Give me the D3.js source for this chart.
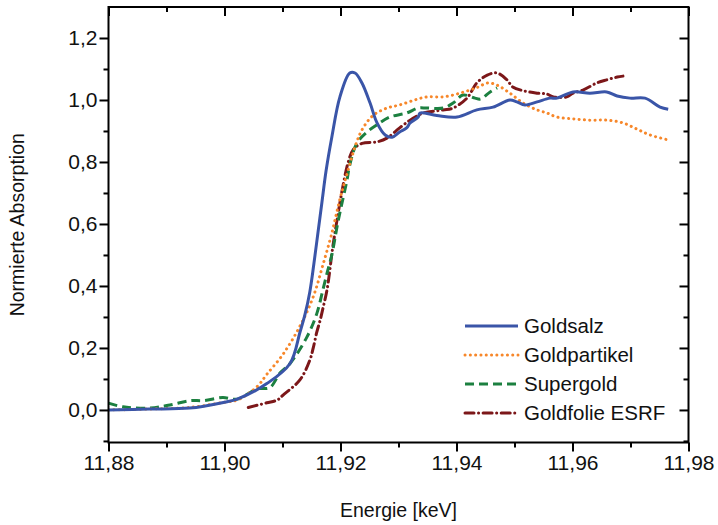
<!DOCTYPE html>
<html>
<head>
<meta charset="utf-8">
<script src="https://cdn.jsdelivr.net/npm/d3@7"></script>
<style>
  html, body { margin: 0; padding: 0; background: #fff; }
  svg text { font-family: "Liberation Sans", Arial, sans-serif; fill: #111; }
</style>
</head>
<body>
<svg id="chart" width="718" height="525"></svg>
<script>
// ---------- data ----------
const seriesNames = ["Goldsalz", "Goldpartikel", "Supergold", "Goldfolie ESRF"];

const energyGoldsalz = [11.880, 11.887, 11.894, 11.900, 11.9022, 11.9073, 11.9113, 11.913, 11.9139, 11.9147, 11.9154, 11.9161, 11.9168, 11.9175, 11.9185, 11.9199, 11.9216, 11.9225, 11.9237, 11.9251, 11.9263, 11.9277, 11.9289, 11.9302, 11.9314, 11.932, 11.9334, 11.9337, 11.9366, 11.9401, 11.9435, 11.9463, 11.9492, 11.9504, 11.9518, 11.9539, 11.9561, 11.9573, 11.9601, 11.963, 11.9659, 11.9677, 11.9699, 11.9725, 11.9751, 11.9765];
const absGoldsalz = [0.0, 0.003, 0.006, 0.025, 0.035, 0.085, 0.15, 0.25, 0.31, 0.38, 0.47, 0.57, 0.67, 0.77, 0.88, 1.01, 1.087, 1.087, 1.055, 0.99, 0.926, 0.887, 0.88, 0.897, 0.91, 0.926, 0.945, 0.958, 0.95, 0.945, 0.968, 0.977, 1.0, 0.994, 0.984, 0.994, 1.006, 1.006, 1.026, 1.022, 1.026, 1.013, 1.006, 1.006, 0.977, 0.97];

const energyGoldpartikel = [11.880, 11.887, 11.894, 11.900, 11.9022, 11.9056, 11.9073, 11.9101, 11.913, 11.9153, 11.917, 11.9185, 11.9199, 11.9208, 11.9228, 11.9239, 11.9256, 11.928, 11.9302, 11.9328, 11.9349, 11.9377, 11.9406, 11.9435, 11.9454, 11.947, 11.9492, 11.9515, 11.9539, 11.9556, 11.9573, 11.9601, 11.963, 11.9659, 11.9687, 11.9711, 11.9734, 11.9765];
const absGoldpartikel = [0.0, 0.003, 0.008, 0.025, 0.032, 0.075, 0.115, 0.18, 0.27, 0.365, 0.47, 0.57, 0.68, 0.74, 0.865, 0.91, 0.95, 0.974, 0.984, 1.0, 1.01, 1.01, 1.022, 1.04, 1.055, 1.048, 1.022, 0.99, 0.968, 0.958, 0.945, 0.939, 0.935, 0.935, 0.926, 0.906, 0.887, 0.871];

const energySupergold = [11.880, 11.8825, 11.8872, 11.8906, 11.8941, 11.8963, 11.8997, 11.9022, 11.9056, 11.9078, 11.9096, 11.9113, 11.9142, 11.9159, 11.917, 11.9178, 11.9185, 11.9196, 11.9211, 11.9216, 11.9228, 11.9246, 11.9263, 11.9285, 11.9314, 11.9334, 11.9349, 11.9377, 11.9394, 11.9411, 11.9432, 11.9441, 11.9458, 11.947];
const absSupergold = [0.022, 0.01, 0.006, 0.016, 0.03, 0.03, 0.04, 0.035, 0.068, 0.072, 0.12, 0.15, 0.235, 0.31, 0.39, 0.45, 0.5, 0.61, 0.74, 0.79, 0.86, 0.897, 0.92, 0.945, 0.958, 0.974, 0.974, 0.974, 0.99, 1.016, 1.006, 1.003, 1.026, 1.039];

const energyGoldfolie = [11.9041, 11.9073, 11.9091, 11.9101, 11.913, 11.9147, 11.9153, 11.9159, 11.9165, 11.917, 11.9177, 11.9187, 11.9196, 11.9204, 11.9213, 11.9222, 11.9237, 11.9263, 11.928, 11.9302, 11.932, 11.9334, 11.9342, 11.9377, 11.9394, 11.9418, 11.9435, 11.9453, 11.947, 11.9487, 11.9497, 11.9515, 11.9539, 11.9556, 11.9567, 11.959, 11.9601, 11.9618, 11.9642, 11.9659, 11.9677, 11.9687];
const absGoldfolie = [0.008, 0.023, 0.032, 0.048, 0.097, 0.16, 0.2, 0.25, 0.29, 0.33, 0.39, 0.53, 0.635, 0.72, 0.797, 0.84, 0.86, 0.865, 0.877, 0.91, 0.935, 0.95, 0.958, 0.968, 0.974, 1.006, 1.055, 1.08, 1.087, 1.065, 1.042, 1.03, 1.022, 1.019, 1.01, 1.01, 1.022, 1.032, 1.055, 1.065, 1.074, 1.077];

const xTickValues = [11.88, 11.90, 11.92, 11.94, 11.96, 11.98];
const xTickLabels = ["11,88", "11,90", "11,92", "11,94", "11,96", "11,98"];
const xMinorTicks = [11.89, 11.91, 11.93, 11.95, 11.97];
const yTickValues = [0.0, 0.2, 0.4, 0.6, 0.8, 1.0, 1.2];
const yTickLabels = ["0,0", "0,2", "0,4", "0,6", "0,8", "1,0", "1,2"];
const yMinorTicks = [-0.1, 0.1, 0.3, 0.5, 0.7, 0.9, 1.1];

// ---------- layout / style ----------
const colors = ["#3a55a8", "#f7872a", "#1c8040", "#7c1719"];
const dashes = [null, "0.1 5.2", "9 5", "9 4.5 0.1 4.5"];
const caps = ["butt", "round", "butt", "round"];

const svg = d3.select("#chart");
const L = 108.5, R = 688.5, T = 7, B = 442.5;
const x = d3.scaleLinear().domain([11.88, 11.98]).range([L, R]);
const y = d3.scaleLinear().domain([-0.105, 1.3]).range([B, T]);

const series = [
  d3.zip(energyGoldsalz, absGoldsalz),
  d3.zip(energyGoldpartikel, absGoldpartikel),
  d3.zip(energySupergold, absSupergold),
  d3.zip(energyGoldfolie, absGoldfolie)
];

svg.append("defs").append("clipPath").attr("id", "clip")
  .append("rect").attr("x", L).attr("y", T).attr("width", R - L).attr("height", B - T);

const line = d3.line().x(d => x(d[0])).y(d => y(d[1])).curve(d3.curveCatmullRom.alpha(0.5));

const gLines = svg.append("g").attr("clip-path", "url(#clip)");
[3, 2, 1, 0].forEach(i => {
  gLines.append("path")
    .datum(series[i])
    .attr("d", line)
    .attr("fill", "none")
    .attr("stroke", colors[i])
    .attr("stroke-width", 3)
    .attr("stroke-linecap", caps[i])
    .attr("stroke-linejoin", "round")
    .attr("stroke-dasharray", dashes[i]);
});

// ---------- axes ----------
const majorLen = 9, minorLen = 5;
function styleAxis(g) {
  g.selectAll(".domain").remove();
  g.selectAll("line").attr("stroke", "#000").attr("stroke-width", 2);
  g.selectAll("text").style("font-size", "21px");
}

// bottom
svg.append("g").attr("transform", `translate(0,${B})`)
  .call(d3.axisBottom(x).tickValues(xTickValues).tickFormat((d, i) => xTickLabels[i]).tickSize(majorLen).tickPadding(4))
  .call(styleAxis);
svg.append("g").attr("transform", `translate(0,${B})`)
  .call(d3.axisBottom(x).tickValues(xMinorTicks).tickFormat("").tickSize(minorLen))
  .call(styleAxis);
// top (inward)
svg.append("g").attr("transform", `translate(0,${T})`)
  .call(d3.axisBottom(x).tickValues(xTickValues).tickFormat("").tickSize(majorLen))
  .call(styleAxis);
svg.append("g").attr("transform", `translate(0,${T})`)
  .call(d3.axisBottom(x).tickValues(xMinorTicks).tickFormat("").tickSize(minorLen))
  .call(styleAxis);
// left
svg.append("g").attr("transform", `translate(${L},0)`)
  .call(d3.axisLeft(y).tickValues(yTickValues).tickFormat((d, i) => yTickLabels[i]).tickSize(majorLen).tickPadding(2))
  .call(styleAxis);
svg.append("g").attr("transform", `translate(${L},0)`)
  .call(d3.axisLeft(y).tickValues(yMinorTicks).tickFormat("").tickSize(minorLen))
  .call(styleAxis);
// right (inward)
svg.append("g").attr("transform", `translate(${R},0)`)
  .call(d3.axisLeft(y).tickValues(yTickValues).tickFormat("").tickSize(majorLen))
  .call(styleAxis);
svg.append("g").attr("transform", `translate(${R},0)`)
  .call(d3.axisLeft(y).tickValues(yMinorTicks).tickFormat("").tickSize(minorLen))
  .call(styleAxis);

// frame
svg.append("rect").attr("x", L).attr("y", T).attr("width", R - L).attr("height", B - T)
  .attr("fill", "none").attr("stroke", "#000").attr("stroke-width", 2);

// axis titles
svg.append("text").attr("x", (L + R) / 2).attr("y", 517).attr("text-anchor", "middle")
  .style("font-size", "19.5px").text("Energie [keV]");
svg.append("text").attr("transform", `translate(24,${(T + B) / 2}) rotate(-90)`)
  .attr("text-anchor", "middle").style("font-size", "19.5px").text("Normierte Absorption");

// ---------- legend ----------
const legend = svg.append("g");
seriesNames.forEach((name, i) => {
  const ly = 326 + i * 29;
  legend.append("line").attr("x1", 465).attr("x2", 518).attr("y1", ly).attr("y2", ly)
    .attr("stroke", colors[i]).attr("stroke-width", 3)
    .attr("stroke-linecap", caps[i]).attr("stroke-dasharray", dashes[i]);
  legend.append("text").attr("x", 524).attr("y", ly).attr("dy", "0.35em")
    .style("font-size", "20.5px").text(name);
});
</script>
</body>
</html>
